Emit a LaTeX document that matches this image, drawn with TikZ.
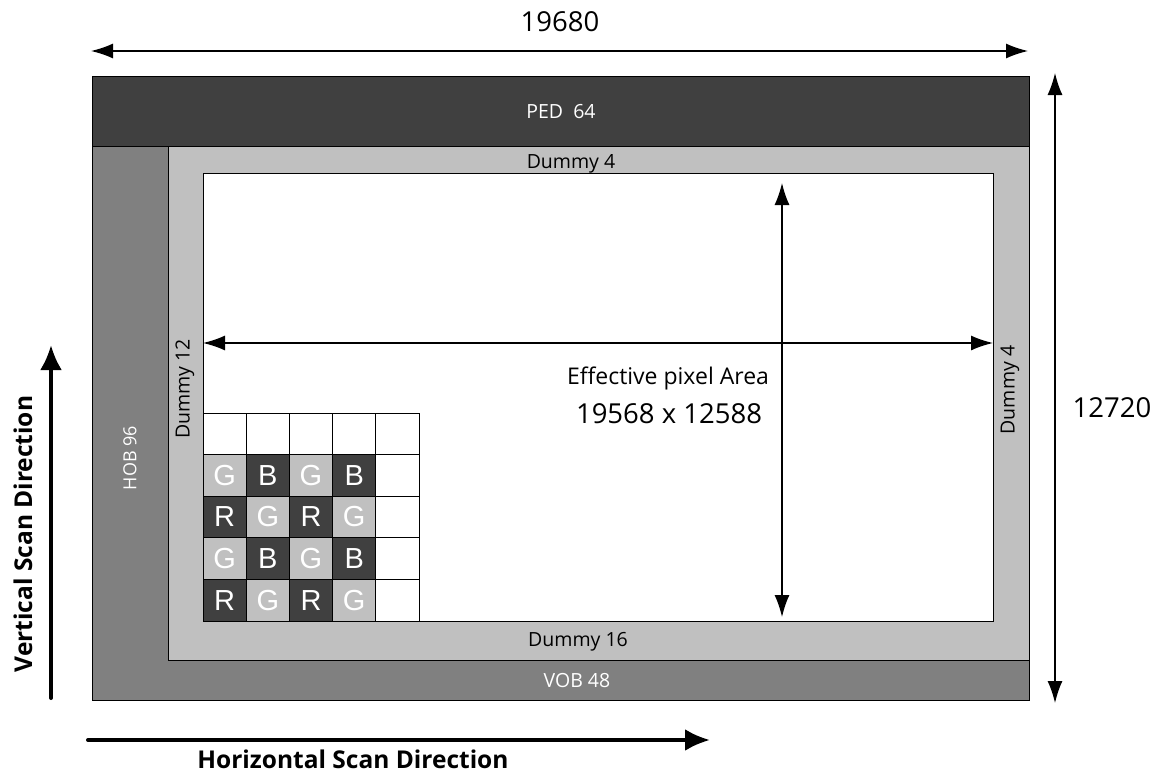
\documentclass[tikz,border=0pt]{standalone}
\usepackage{fontspec}
\setmainfont{Open Sans}
\newfontfamily\cellfont{Liberation Sans}
\usepackage{tikz}
\usetikzlibrary{arrows.meta,calc}

\definecolor{darkband}{HTML}{404040}
\definecolor{midband}{HTML}{808080}
\definecolor{lightband}{HTML}{C0C0C0}

\begin{document}
\begin{tikzpicture}[
  x=1pt, y=-1pt,
  band/.style={draw=black, line width=0.9pt},
  lbl/.style={font=\fontsize{19.5}{21}\selectfont, inner sep=0pt},
  wlbl/.style={lbl, text=white},
  dim/.style={font=\fontsize{27.5}{30}\selectfont, inner sep=0pt},
  arr/.style={{Latex[length=22pt,width=15pt]}-{Latex[length=22pt,width=15pt]}, line width=1.3pt},
  scan/.style={-{Latex[length=25pt,width=22pt]}, line width=4pt, line cap=round},
  scanlbl/.style={font=\bfseries\fontsize{24.5}{26}\selectfont, inner sep=0pt},
  cell/.style={draw=black, line width=0.9pt, minimum width=43.2pt, minimum height=41.6pt, inner sep=0pt,
    font=\cellfont\fontsize{29}{30}\selectfont, text=white}
]
\useasboundingbox (0,0) rectangle (1157,776);

% sensor bands
\draw[band, fill=midband] (92,76) rectangle (1029,700);
\draw[band, fill=darkband] (92,76) rectangle (1029,146);
\draw[band, fill=lightband] (168,146) rectangle (1029,660);
\draw[band, fill=white] (203,173) rectangle (993,621);

\node[wlbl] (ped) at (561,112) {PED\ \ 64};
\node[wlbl] (vob) at (577,681) {VOB 48};
\node[wlbl, rotate=90, font=\fontsize{18}{20}\selectfont] (hob) at (130,458) {HOB 96};
\node[lbl] (dtop) at (571,164) {Dummy 4};
\node[lbl] (dbot) at (578,642) {Dummy 16};
\node[lbl, rotate=90] (dleft) at (185,389) {Dummy 12};
\node[lbl, rotate=90] (dright) at (1010,390) {Dummy 4};

% colour filter corner
\foreach \c in {0,...,4}
  \node[cell] (c0\c) at (224.6+43.2*\c,433.8) {};
\foreach \r/\a/\b in {1/G/B,2/R/G,3/G/B,4/R/G}{
  \foreach \c in {0,2}{
    \pgfmathsetmacro{\cx}{224.6+43.2*\c}
    \pgfmathsetmacro{\cy}{433.8+41.6*\r}
    \if\a G
      \node[cell, fill=lightband] (c\r\c) at (\cx,\cy) {\a};
      \node[cell, fill=darkband] at (\cx+43.2,\cy) {\b};
    \else
      \node[cell, fill=darkband] (c\r\c) at (\cx,\cy) {\a};
      \node[cell, fill=lightband] at (\cx+43.2,\cy) {\b};
    \fi
  }
  \node[cell] (c\r4) at (397.4,433.8+41.6*\r) {};
}

% effective area
\coordinate (effL) at (203,343);
\coordinate (effR) at (993,343);
\coordinate (effT) at (782,183);
\coordinate (effB) at (782,617);
\draw[arr] (effL) -- (effR);
\draw[arr] (effT) -- (effB);
\node[lbl, font=\fontsize{23}{25}\selectfont] (efftxt) at (668,378) {Effective pixel Area};
\node[dim] (effnum) at (669,414) {19568 x 12588};

% overall size
\coordinate (topL) at (91,51);
\coordinate (topR) at (1028,51);
\coordinate (sideT) at (1055,73);
\coordinate (sideB) at (1055,703);
\draw[arr] (topL) -- (topR);
\draw[arr] (sideT) -- (sideB);
\node[dim] (wid) at (560,22) {19680};
\node[dim] (hgt) at (1112,408) {12720};

% scan directions
\coordinate (vs0) at (51,698);
\coordinate (vs1) at (51,345);
\coordinate (hs0) at (88,740);
\coordinate (hs1) at (710,740);
\draw[scan] (vs0) -- (vs1);
\draw[scan] (hs0) -- (hs1);
\node[scanlbl, rotate=90] (vstxt) at (23,534) {Vertical Scan Direction};
\node[scanlbl] (hstxt) at (353,759) {Horizontal Scan Direction};

\end{tikzpicture}
\end{document}
